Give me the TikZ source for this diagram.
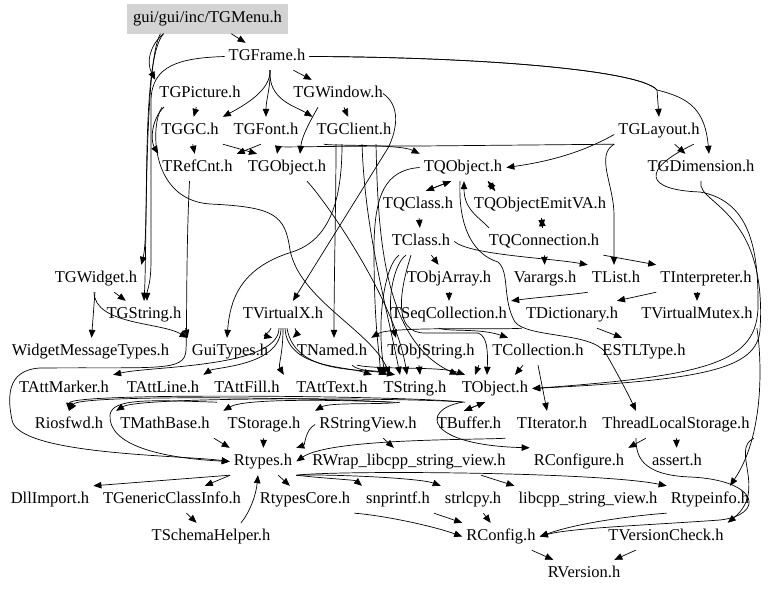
\documentclass[tikz,border=0pt]{standalone}
\usepackage{fontspec}
\setmainfont{Liberation Serif}
\usetikzlibrary{arrows.meta}
\begin{document}
\begin{tikzpicture}[x=1pt,y=-1pt,
  n/.style={inner xsep=4pt,inner ysep=6pt,text height=11.5pt,text depth=3.5pt,font=\fontsize{16.5}{18}\selectfont},
  e/.style={draw=black,line width=0.7pt,-{Triangle[length=8pt,width=6.5pt]}}]
\fill[white] (0,0) rectangle (768,592);
\path[use as bounding box] (0,0) rectangle (768,592);
% nodes
\node[n,fill={rgb,255:red,211;green,211;blue,211},minimum width=161pt,minimum height=30pt] (menu) at (207.5,18.5) {gui/gui/inc/TGMenu.h};
\node[n] (frame) at (267,56.5) {TGFrame.h};
\node[n] (picture) at (200,93.5) {TGPicture.h};
\node[n] (window) at (338,93.5) {TGWindow.h};
\node[n] (gc) at (190,130.5) {TGGC.h};
\node[n] (font) at (266,130.5) {TGFont.h};
\node[n] (client) at (354,130.5) {TGClient.h};
\node[n] (layout) at (659,130.5) {TGLayout.h};
\node[n] (refcnt) at (197.5,167.5) {TRefCnt.h};
\node[n] (gobject) at (287,167.5) {TGObject.h};
\node[n] (qobject) at (463,167.5) {TQObject.h};
\node[n] (dimension) at (701,167.5) {TGDimension.h};
\node[n] (qclass) at (418,204.5) {TQClass.h};
\node[n] (emitva) at (540,204.5) {TQObjectEmitVA.h};
\node[n] (tclass) at (421,241.5) {TClass.h};
\node[n] (qconn) at (544,241.5) {TQConnection.h};
\node[n] (widget) at (96,278.5) {TGWidget.h};
\node[n] (objarray) at (449,278.5) {TObjArray.h};
\node[n] (varargs) at (545,278.5) {Varargs.h};
\node[n] (list) at (616,278.5) {TList.h};
\node[n] (interp) at (706,278.5) {TInterpreter.h};
\node[n] (gstring) at (144,314.5) {TGString.h};
\node[n] (vx) at (283,314.5) {TVirtualX.h};
\node[n] (seqcoll) at (449,314.5) {TSeqCollection.h};
\node[n] (dict) at (572,314.5) {TDictionary.h};
\node[n] (vmutex) at (697,314.5) {TVirtualMutex.h};
\node[n] (wmt) at (90.5,351.5) {WidgetMessageTypes.h};
\node[n] (guitypes) at (230,351.5) {GuiTypes.h};
\node[n] (named) at (332,351.5) {TNamed.h};
\node[n] (objstring) at (431,351.5) {TObjString.h};
\node[n] (coll) at (538,351.5) {TCollection.h};
\node[n] (estl) at (644,351.5) {ESTLType.h};
\node[n] (attmarker) at (64,388.5) {TAttMarker.h};
\node[n] (attline) at (163,388.5) {TAttLine.h};
\node[n] (attfill) at (247,388.5) {TAttFill.h};
\node[n] (atttext) at (332,388.5) {TAttText.h};
\node[n] (string) at (415,388.5) {TString.h};
\node[n] (object) at (495,388.5) {TObject.h};
\node[n] (iosfwd) at (69,424.5) {Riosfwd.h};
\node[n] (mathbase) at (165,424.5) {TMathBase.h};
\node[n] (storage) at (264,424.5) {TStorage.h};
\node[n] (strview) at (368,424.5) {RStringView.h};
\node[n] (buffer) at (469,424.5) {TBuffer.h};
\node[n] (iterator) at (552,424.5) {TIterator.h};
\node[n] (tls) at (676,424.5) {ThreadLocalStorage.h};
\node[n] (rtypes) at (263,461.5) {Rtypes.h};
\node[n] (rwrap) at (409,461.5) {RWrap\_libcpp\_string\_view.h};
\node[n] (rconfigure) at (579,461.5) {RConfigure.h};
\node[n] (assert) at (677,461.5) {assert.h};
\node[n] (dllimport) at (50,499.5) {DllImport.h};
\node[n] (gci) at (172,499.5) {TGenericClassInfo.h};
\node[n] (rtcore) at (305,499.5) {RtypesCore.h};
\node[n] (snprintf) at (398,499.5) {snprintf.h};
\node[n] (strlcpy) at (473,499.5) {strlcpy.h};
\node[n] (libcpp) at (588,499.5) {libcpp\_string\_view.h};
\node[n] (rtypeinfo) at (710,499.5) {Rtypeinfo.h};
\node[n] (schema) at (211,536.5) {TSchemaHelper.h};
\node[n] (rconfig) at (501,536.5) {RConfig.h};
\node[n] (vcheck) at (666,536.5) {TVersionCheck.h};
\node[n] (rversion) at (584,573.5) {RVersion.h};
% edges: TGMenu
\draw[e] (menu) -- (frame);
\draw[e] ([xshift=-44pt]menu.south) .. controls (150,45) and (146,62) .. (picture.north west);
\draw[e] ([xshift=-44pt]menu.south) .. controls (140,60) and (150,230) .. (widget.north east);
\draw[e] ([xshift=-47pt]menu.south) .. controls (144,60) and (147,250) .. (gstring.north);
% TGFrame
\draw[e] (frame) -- (window);
\draw[e] ([xshift=3pt]frame.south) .. controls (271,90) and (245,105) .. (gc.north east);
\draw[e] ([xshift=3pt]frame.south) .. controls (271,85) and (266,100) .. (font.north);
\draw[e] ([xshift=3pt]frame.south) .. controls (268,100) and (295,106) .. (client.north west);
\draw[e] (frame.east) .. controls (480,57) and (640,70) .. (657,90) -- (layout.north);
\draw[e] (frame.east) .. controls (480,57) and (640,70) .. (657,90) .. controls (690,98) and (705,110) .. ([xshift=8pt]dimension.north);
\draw[e] (frame.west) .. controls (180,58) and (152,65) .. (151,100) -- (151,260) .. controls (151,285) and (147,290) .. ([xshift=3pt]gstring.north);
% TGPicture
\draw[e] (picture) -- (gc);
\draw[e] ([xshift=-36pt]picture.south) .. controls (152,118) and (150,140) .. (refcnt.north west);
\draw[e] ([xshift=-38pt]picture.south) .. controls (150,125) and (150,200) .. (210,204) .. controls (275,207) and (285,215) .. (290,250) .. controls (300,300) and (370,330) .. ([xshift=-25pt]string.north);
% TGGC, TGFont
\draw[e] (gc) -- (refcnt);
\draw[e] (gc.south east) -- ([xshift=-30pt]gobject.north);
\draw[e] ([xshift=-5pt]font.south) -- (refcnt.north east);
% TGWindow
\draw[e] (window) -- (client);
\draw[e] ([xshift=-20pt]window.south) .. controls (312,118) and (302,135) .. ([xshift=13pt]gobject.north);
\draw[e] ([xshift=-4pt]window.east) .. controls (400,105) and (398,128) .. (388,148) -- ([xshift=10pt]vx.north);
% TGLayout
\draw[e] (layout.south west) -- (420,146) .. controls (300,146) and (278,148) .. ([xshift=-10pt]gobject.north);
\draw[e] ([yshift=-4pt]layout.west) .. controls (590,148) and (560,160) .. (qobject.east);
\draw[e] (layout) -- (dimension);
\draw[e] (layout.south west) .. controls (595,155) and (614,185) .. (614,215) -- ([xshift=-2pt]list.north);
\draw[e] ([xshift=-10pt]layout.south east) .. controls (640,170) and (645,190) .. (700,192) .. controls (745,200) and (758,240) .. (758,300) .. controls (760,360) and (720,375) .. (object.east);
\draw[e] (dimension.south) .. controls (698,195) and (720,200) .. (740,230) .. controls (760,260) and (762,300) .. (760,330) .. controls (757,370) and (700,380) .. (object.east);
% TGClient
\draw[e] ([xshift=-30pt]client.south) .. controls (330,146) and (400,144) .. (qobject.north west);
\draw[e] ([xshift=-12pt]client.south) .. controls (342,200) and (330,240) .. (292,252) .. controls (240,268) and (230,300) .. ([xshift=-3pt]guitypes.north);
\draw[e] ([xshift=-18pt]client.south) .. controls (336,200) and (334,280) .. ([xshift=2pt]named.north);
\draw[e] ([xshift=8pt]client.south) .. controls (365,230) and (385,300) .. ([xshift=-15pt]string.north);
\draw[e] ([xshift=22pt]client.south) .. controls (378,230) and (382,340) .. (object.north west);
% TGObject
\draw[e] ([xshift=20pt]gobject.south) .. controls (325,200) and (395,300) .. ([xshift=-8pt]string.north);
% TQObject family
\draw[e] ([xshift=-12pt]qobject.south) -- ([xshift=8pt]qclass.north);
\draw[e] ([xshift=8pt]qclass.north) -- ([xshift=-12pt]qobject.south);
\draw[e] ([xshift=25pt]qobject.south) -- ([xshift=-45pt]emitva.north);
\draw[e] ([xshift=-45pt]emitva.north) -- ([xshift=25pt]qobject.south);
\draw[e] (emitva) -- (qconn);
\draw[e] (qconn) -- (emitva);
\draw[e] ([xshift=-55pt]qconn.north) .. controls (480,218) and (464,210) .. ([xshift=1pt]qobject.south);
\draw[e] ([xshift=-3pt]qobject.south) .. controls (458,230) and (475,255) .. (498,262) .. controls (510,272) and (502,300) .. (515,322) .. controls (528,338) and (590,332) .. (605,352) .. controls (620,378) and (630,398) .. ([xshift=-40pt]tls.north);
\draw[e] (qobject.west) .. controls (385,170) and (374,195) .. (374,250) .. controls (374,330) and (380,355) .. ([xshift=-35pt]string.north);
% TQClass, TClass
\draw[e] (qclass) -- (tclass);
\draw[e] (tclass) -- (objarray);
\draw[e] (tclass.east) .. controls (470,255) and (550,258) .. (list.north west);
\draw[e] ([xshift=-15pt]tclass.south) .. controls (395,262) and (385,300) .. ([xshift=-35pt]objstring.north);
\draw[e] ([xshift=-22pt]tclass.south) .. controls (385,265) and (376,320) .. ([xshift=-30pt]string.north);
\draw[e] ([xshift=-10pt]tclass.south) .. controls (400,290) and (392,333) .. (425,333) -- (478,333) .. controls (487,336) and (488,350) .. ([xshift=-8pt]object.north);
% TQConnection
\draw[e] (qconn) -- (varargs);
\draw[e] (qconn.south east) -- (interp.north west);
% collections
\draw[e] (objarray) -- (seqcoll);
\draw[e] (list.south west) .. controls (570,295) and (540,297) .. (seqcoll.north east);
\draw[e] (interp.south west) -- ([xshift=45pt]dict.north);
\draw[e] ([xshift=-9pt]interp.south) -- (vmutex.north);
\draw[e] (vmutex.south east) .. controls (760,345) and (768,430) .. ([xshift=20pt]rtypeinfo.north);
\draw[e] ([xshift=-10pt]seqcoll.south) .. controls (450,332) and (480,328) .. ([xshift=-30pt]coll.north);
\draw[e] ([xshift=25pt]dict.south) -- ([xshift=-22pt]estl.north);
\draw[e] (dict.south west) .. controls (500,330) and (390,326) .. (named.north east);
% TVirtualX
\draw[e] ([xshift=-4pt]vx.south) .. controls (279,368) and (150,366) .. (attmarker.north east);
\draw[e] ([xshift=-2pt]vx.south) .. controls (281,366) and (215,367) .. (attline.north east);
\draw[e] (vx.south) .. controls (283,355) and (278,365) .. (attfill.north east);
\draw[e] ([xshift=2pt]vx.south) .. controls (287,368) and (345,366) .. (atttext.north east);
\draw[e] ([xshift=-12pt]vx.south) .. controls (268,335) and (262,335) .. (guitypes.north east);
\draw[e] ([xshift=12pt]vx.south) .. controls (297,335) and (298,333) .. (named.north west);
\draw[e] ([xshift=4pt]vx.south) .. controls (295,375) and (360,368) .. ([xshift=-20pt]string.north);
% TGWidget, TGString
\draw[e] (widget) -- (wmt);
\draw[e] (widget) -- (gstring);
\draw[e] ([xshift=-2pt]widget.south) .. controls (95,325) and (160,322) .. (guitypes.north west);
\draw[e] (gstring.south east) -- (guitypes.north west);
% TRefCnt
\draw[e] ([xshift=-8pt]refcnt.south) .. controls (186,250) and (187,330) .. (186,350) .. controls (185,372) and (160,367) .. (40,368) .. controls (5,370) and (8,400) .. (12,420) .. controls (18,455) and (180,455) .. (rtypes.west);
% TNamed, TObjString, TCollection
\draw[e] ([xshift=20pt]named.south) .. controls (360,372) and (375,370) .. ([xshift=-28pt]string.north);
\draw[e] ([xshift=25pt]named.south) .. controls (380,370) and (440,366) .. ([xshift=-30pt]object.north);
\draw[e] ([xshift=-12pt]objstring.south) -- ([xshift=5pt]string.north);
\draw[e] (objstring.south east) -- ([xshift=-20pt]object.north);
\draw[e] ([xshift=-15pt]coll.south) -- ([xshift=20pt]object.north);
\draw[e] (coll.south) -- ([xshift=-5pt]iterator.north);
% TString, TObject
\draw[e] ([xshift=-25pt]string.south) .. controls (330,398) and (80,394) .. (iosfwd.north);
\draw[e] ([xshift=-20pt]string.south) .. controls (340,400) and (245,398) .. (storage.north west);
\draw[e] ([xshift=-15pt]string.south) .. controls (380,405) and (330,402) .. (strview.north west);
\draw[e] ([xshift=-30pt]object.south) .. controls (420,398) and (140,396) .. (mathbase.north west);
\draw[e] ([xshift=-32pt]object.south) .. controls (420,396) and (70,392) .. (iosfwd.north);
\draw[e] ([xshift=-10pt]object.south) -- ([xshift=-5pt]buffer.north);
\draw[e] ([xshift=-5pt]buffer.north) -- ([xshift=-10pt]object.south);
\draw[e] ([xshift=-33pt]object.south) .. controls (420,410) and (425,445) .. (rconfigure.north west);
% into Rtypes
\draw[e] (buffer.south east) .. controls (480,440) and (330,438) .. (rtypes.east);
\draw[e] (strview.west) .. controls (305,430) and (305,445) .. (rtypes.north east);
\draw[e] (strview) -- (rwrap);
\draw[e] (storage) -- (rtypes);
\draw[e] (mathbase.south east) -- (rtypes.north west);
\draw[e] ([xshift=-30pt]attfill.south) .. controls (150,400) and (112,398) .. (110,415) .. controls (108,445) and (160,458) .. (rtypes.west);
% ThreadLocalStorage
\draw[e] (tls) -- (assert);
\draw[e] ([xshift=-30pt]tls.south) -- (rconfigure.north east);
\draw[e] ([xshift=-40pt]tls.south) .. controls (636,455) and (640,475) .. (690,477) .. controls (760,480) and (765,515) .. (720,520) .. controls (650,525) and (570,528) .. (rconfig.east);
\draw[e] (tls.south east) .. controls (730,450) and (768,490) .. (vcheck.north east);
% Rtypes out
\draw[e] (rtypes.south west) -- (dllimport.north east);
\draw[e] (rtypes) -- (gci);
\draw[e] (rtypes) -- (rtcore);
\draw[e] (rtypes.south east) .. controls (320,478) and (355,480) .. (snprintf.north west);
\draw[e] (rtypes.south east) .. controls (330,474) and (420,478) .. (strlcpy.north west);
\draw[e] (rtypes.south east) .. controls (340,470) and (600,472) .. (rtypeinfo.north west);
\draw[e] (gci) -- (schema);
\draw[e] ([xshift=30pt]schema.north) .. controls (250,512) and (256,495) .. ([xshift=-5pt]rtypes.south);
\draw[e] (rtcore.south east) .. controls (380,515) and (430,525) .. (rconfig.west);
\draw[e] (snprintf.south east) -- (rconfig.north west);
\draw[e] (strlcpy) -- (rconfig);
\draw[e] (rtypeinfo.south west) .. controls (640,515) and (580,522) .. (rconfig.east);
\draw[e] ([xshift=72pt]rwrap.south) -- (libcpp.north west);
\draw[e] (rconfig) -- (rversion);
\draw[e] (vcheck) -- (rversion);
\end{tikzpicture}
\end{document}
